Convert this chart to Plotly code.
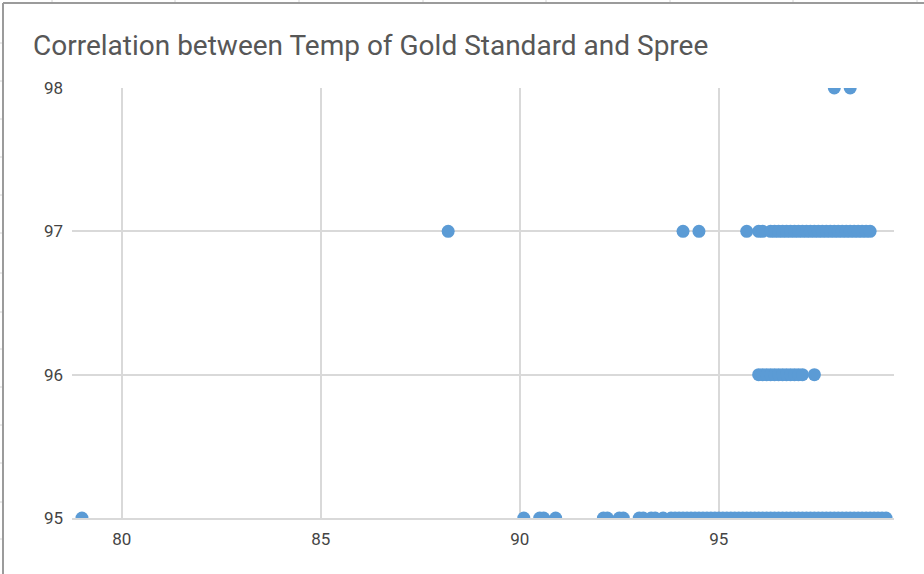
import plotly.graph_objects as go

# Data (x = Gold Standard temp, y = Spree temp)
x_98 = [97.9, 98.3]
x_97 = [88.2, 94.1, 94.5, 95.7, 96.0, 96.1,
        96.3, 96.4, 96.5, 96.6, 96.7, 96.8, 96.9, 97.0, 97.1, 97.2, 97.3,
        97.4, 97.5, 97.6, 97.7, 97.8, 97.9, 98.0, 98.1, 98.2, 98.3, 98.4,
        98.5, 98.6, 98.7, 98.8]
x_96 = [96.0, 96.1, 96.2, 96.3, 96.4, 96.5, 96.6, 96.7, 96.8, 96.9, 97.0, 97.1, 97.4]
x_95 = [79.0, 90.1, 90.5, 90.6, 90.9, 92.1, 92.2, 92.5, 92.6,
        93.0, 93.1, 93.3, 93.4, 93.6, 93.8, 93.9,
        94.0, 94.1, 94.2, 94.3, 94.4, 94.5, 94.6, 94.7, 94.8, 94.9,
        95.0, 95.1, 95.2, 95.3, 95.4, 95.5, 95.6, 95.7, 95.8, 95.9,
        96.0, 96.1, 96.2, 96.3, 96.4, 96.5, 96.6, 96.7, 96.8, 96.9,
        97.0, 97.1, 97.2, 97.3, 97.4, 97.5, 97.6, 97.7, 97.8, 97.9,
        98.0, 98.1, 98.2, 98.3, 98.4, 98.5, 98.6, 98.7, 98.8, 98.9,
        99.0, 99.1, 99.2]
y_levels = [98, 97, 96, 95]

x_ticks = [80, 85, 90, 95]
y_ticks = [95, 96, 97, 98]

title_text = "Correlation between Temp of Gold Standard and Spree"

xs, ys = [], []
for lvl, row in zip(y_levels, [x_98, x_97, x_96, x_95]):
    xs += row
    ys += [lvl] * len(row)

fig = go.Figure(go.Scatter(
    x=xs, y=ys, mode="markers",
    marker=dict(size=13, color="#5b9bd5", line=dict(width=0)),
    hoverinfo="x+y", showlegend=False, cliponaxis=True,
))

W, H = 924, 574
L, R, T, B = 72, 30, 88, 56
pw, ph = W - L - R, H - T - B

def px(xp):
    return (xp - L) / pw

def py(yp):
    return (H - B - yp) / ph

shapes = []
border = "#9b9b9b"
# chart border (top and left)
shapes.append(dict(type="line", xref="paper", yref="paper",
                   x0=px(3), x1=px(W + 5), y0=py(3), y1=py(3),
                   line=dict(color=border, width=2)))
shapes.append(dict(type="line", xref="paper", yref="paper",
                   x0=px(3), x1=px(3), y0=py(3), y1=py(H + 5),
                   line=dict(color=border, width=2)))
# faint spreadsheet cell marks outside the chart
for xx in [52, 175, 299, 423, 546, 670, 793, 917]:
    shapes.append(dict(type="line", xref="paper", yref="paper",
                       x0=px(xx), x1=px(xx), y0=py(0), y1=py(2),
                       line=dict(color="#d4d4d4", width=1)))
for yy in [43, 81, 119, 157, 195, 233, 273, 312, 349, 387, 425, 463, 502, 539]:
    shapes.append(dict(type="line", xref="paper", yref="paper",
                       x0=px(0), x1=px(2), y0=py(yy), y1=py(yy),
                       line=dict(color="#d4d4d4", width=1)))

fig.update_layout(
    width=W, height=H,
    margin=dict(l=L, r=R, t=T, b=B, pad=0),
    paper_bgcolor="white", plot_bgcolor="white",
    font=dict(family="Roboto, Arial, sans-serif", size=17, color="#444444"),
    title=dict(text=title_text, xref="container", yref="container",
               x=33 / W, xanchor="left", y=1 - 45 / H, yanchor="middle",
               font=dict(family="Roboto, Arial, sans-serif", size=28, color="#575757")),
    shapes=shapes,
    xaxis=dict(range=[78.75, 99.4], tickvals=x_ticks, showgrid=True,
               gridcolor="#d9d9d9", gridwidth=2, zeroline=False,
               showline=True, linecolor="#d9d9d9", linewidth=2,
               ticks="", ticklabelstandoff=5),
    yaxis=dict(range=[95, 98], tickvals=y_ticks, showgrid=True,
               gridcolor="#d9d9d9", gridwidth=2, zeroline=False,
               showline=False, ticks="", ticklabelstandoff=8),
)

fig.write_html("out.html", config={"displayModeBar": False},
               post_script="document.body.style.margin='0';document.body.style.overflow='hidden';")
